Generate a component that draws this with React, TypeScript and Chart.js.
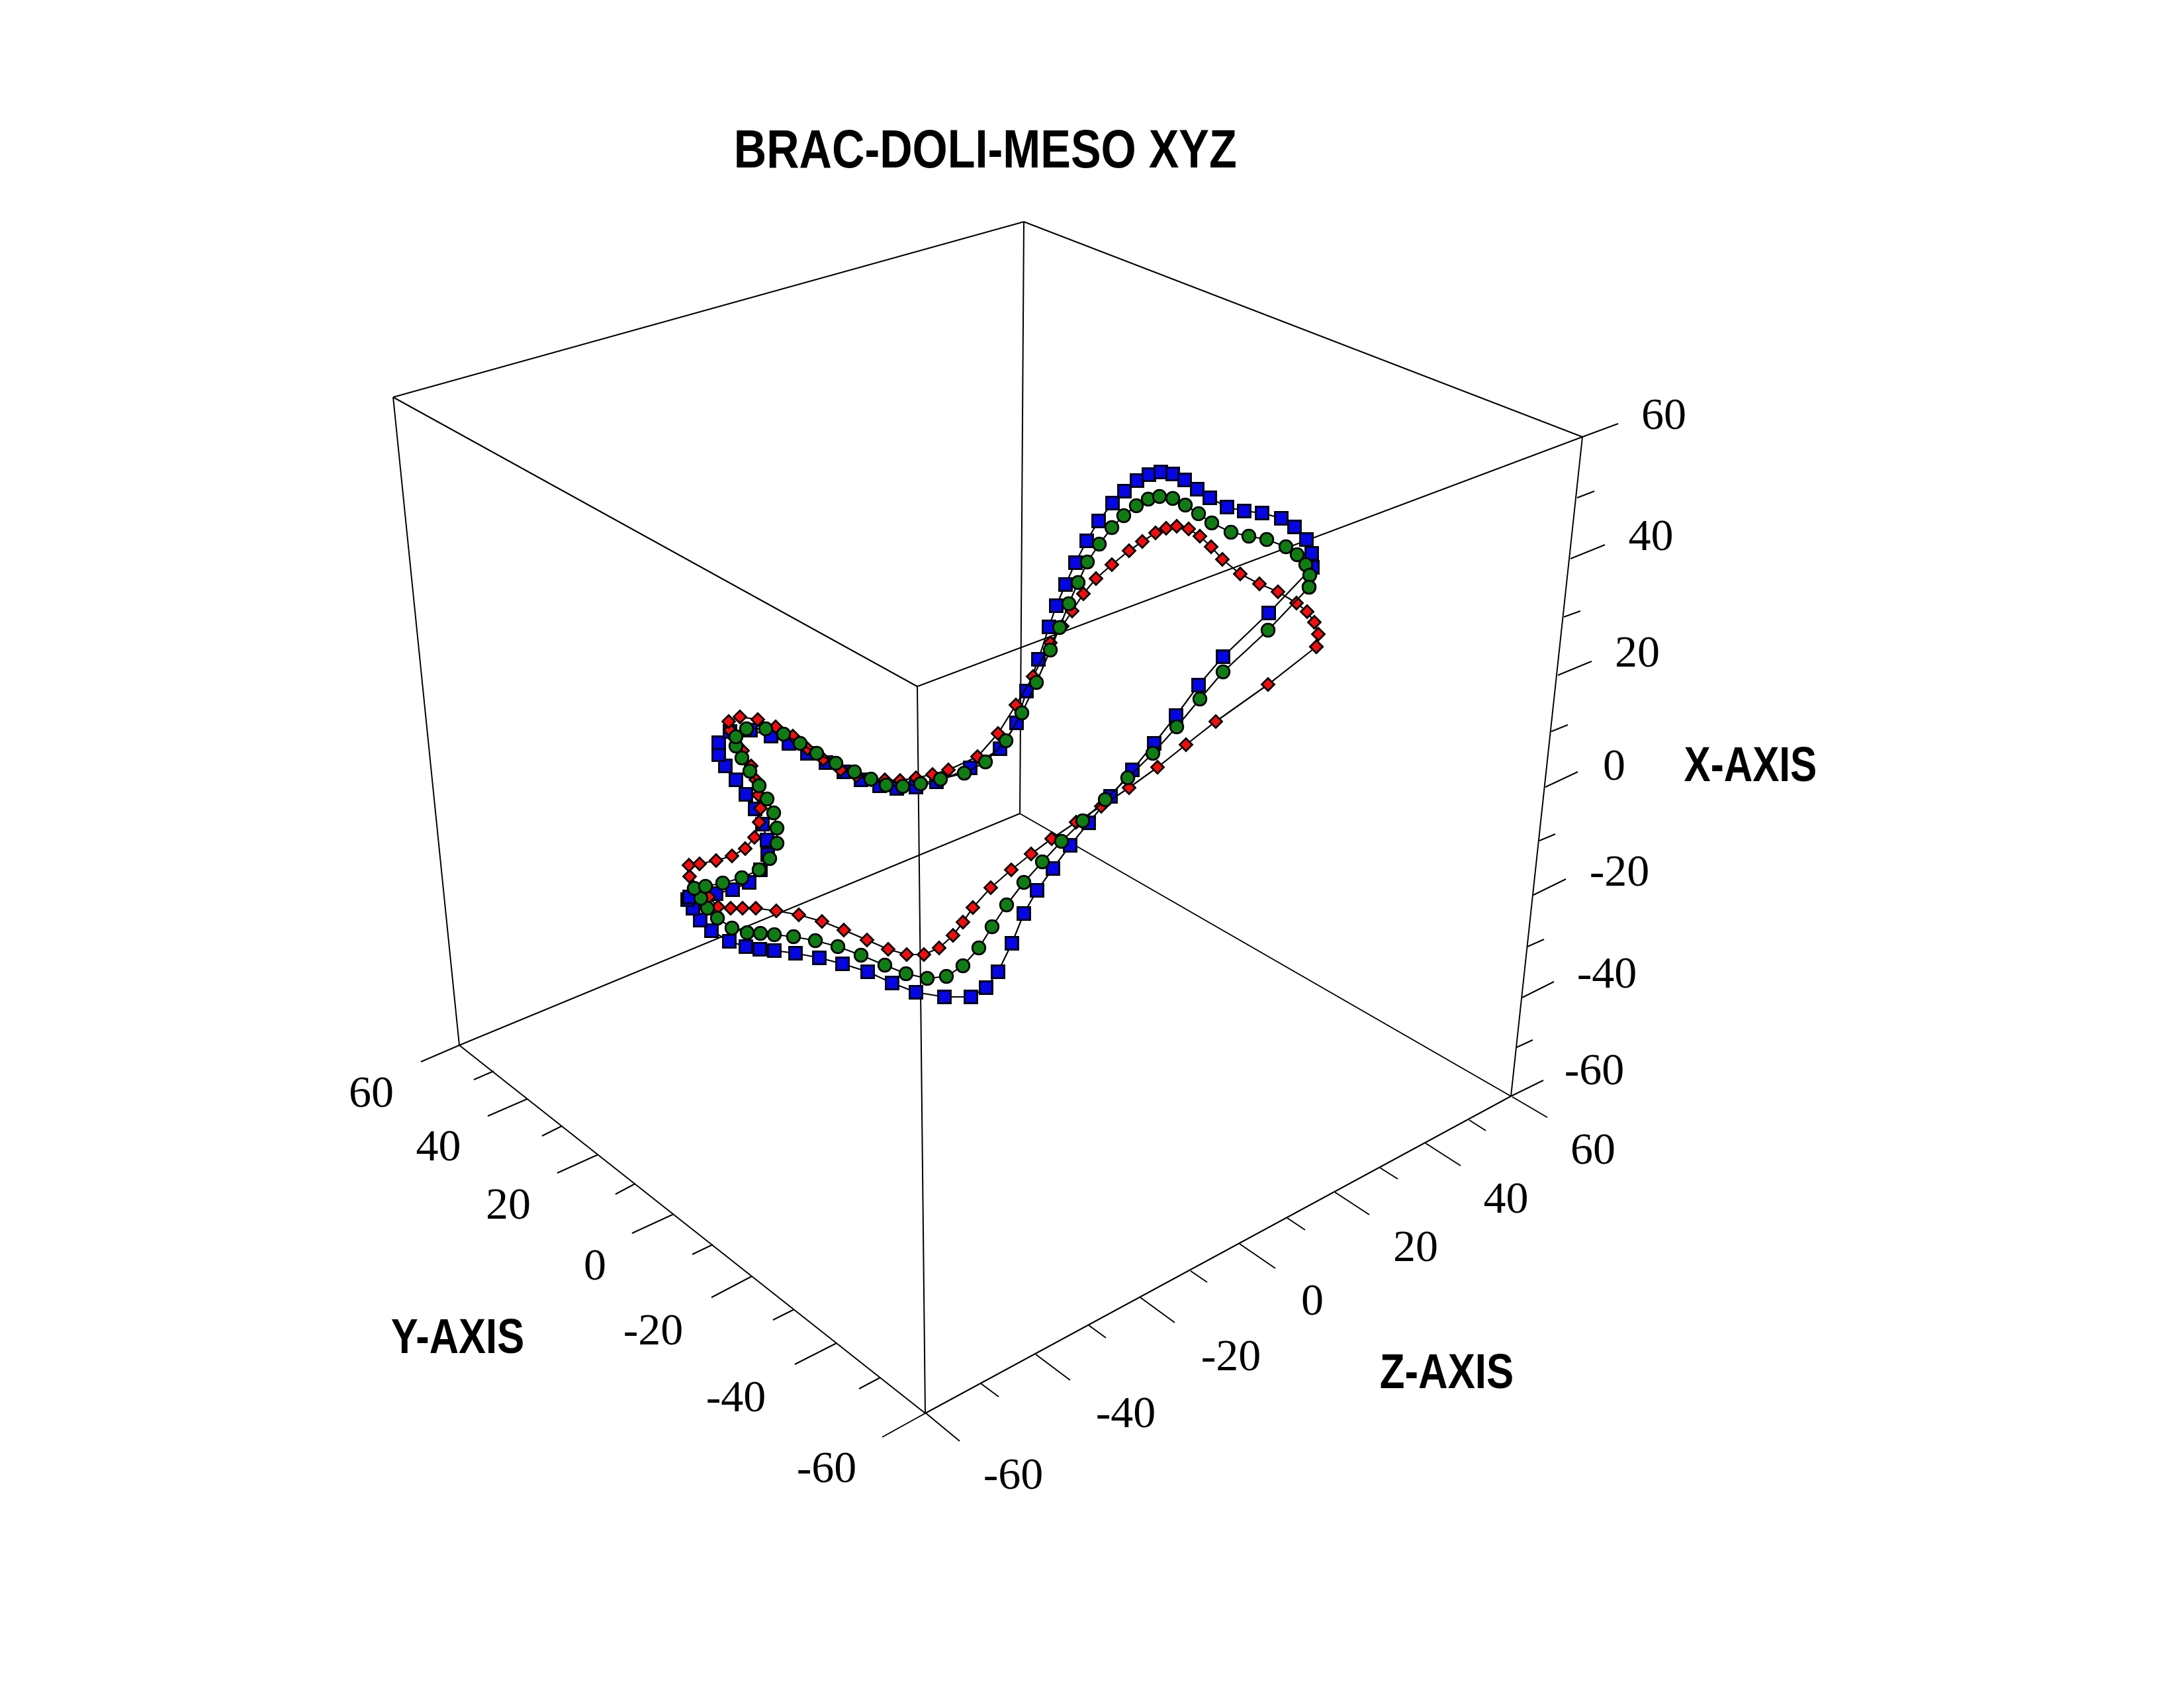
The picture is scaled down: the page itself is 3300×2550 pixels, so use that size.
import React, { useEffect, useRef } from "react";
import { Chart, registerables } from "chart.js";

Chart.register(...registerables);

// The source is a 3D plot with no recoverable depth, so every series is stored
// as the projected coordinates (units of the 2D plane).
const blueX = [1917, 1848, 1811, 1777, 1744, 1711, 1678, 1645, 1617, 1591, 1567, 1547, 1529, 1508, 1490, 1467, 1427, 1384, 1348, 1311, 1273, 1238, 1202, 1170, 1148, 1127, 1102, 1075, 1058, 1047, 1039, 1042, 1082, 1107, 1132, 1149, 1160, 1159, 1152, 1141, 1127, 1112, 1096, 1086, 1086, 1103, 1134, 1165, 1192, 1220, 1248, 1275, 1301, 1329, 1355, 1384, 1415, 1466, 1511, 1536, 1551, 1569, 1585, 1596, 1610, 1625, 1642, 1660, 1681, 1699, 1718, 1736, 1754, 1772, 1790, 1809, 1828, 1854, 1880, 1907, 1936, 1956, 1974, 1982, 1983, 1917];
const blueY = [926, 992, 1035, 1081, 1123, 1163, 1203, 1243, 1277, 1312, 1345, 1380, 1425, 1468, 1492, 1506, 1506, 1499, 1485, 1468, 1456, 1447, 1440, 1436, 1434, 1430, 1422, 1406, 1390, 1372, 1359, 1355, 1350, 1344, 1333, 1314, 1291, 1269, 1245, 1222, 1200, 1178, 1157, 1140, 1122, 1105, 1103, 1112, 1123, 1138, 1152, 1166, 1178, 1187, 1191, 1189, 1181, 1160, 1131, 1092, 1044, 996, 947, 915, 883, 850, 817, 787, 760, 742, 726, 717, 713, 716, 725, 739, 752, 766, 772, 775, 783, 796, 815, 836, 857, 926];

const greenX = [1978, 1916, 1848, 1813, 1778, 1742, 1704, 1670, 1636, 1604, 1575, 1547, 1521, 1499, 1479, 1455, 1430, 1401, 1369, 1337, 1301, 1266, 1232, 1199, 1170, 1149, 1129, 1106, 1084, 1069, 1059, 1049, 1066, 1092, 1121, 1147, 1163, 1174, 1174, 1169, 1159, 1147, 1133, 1121, 1112, 1112, 1128, 1157, 1184, 1209, 1234, 1263, 1291, 1316, 1339, 1364, 1391, 1421, 1457, 1489, 1520, 1544, 1566, 1587, 1601, 1615, 1629, 1643, 1661, 1680, 1698, 1717, 1735, 1752, 1772, 1791, 1811, 1831, 1860, 1887, 1914, 1943, 1960, 1973, 1979, 1978];
const greenY = [887, 952, 1015, 1056, 1098, 1138, 1175, 1208, 1240, 1271, 1302, 1333, 1367, 1400, 1432, 1459, 1475, 1478, 1471, 1458, 1443, 1430, 1421, 1415, 1412, 1410, 1409, 1402, 1387, 1372, 1357, 1342, 1339, 1334, 1326, 1314, 1297, 1274, 1251, 1228, 1207, 1187, 1165, 1145, 1127, 1113, 1101, 1101, 1109, 1123, 1138, 1153, 1166, 1177, 1186, 1188, 1184, 1177, 1168, 1151, 1119, 1077, 1031, 982, 948, 912, 880, 849, 822, 797, 779, 764, 754, 750, 753, 763, 776, 790, 804, 810, 815, 826, 838, 853, 869, 887];

const redX = [1989, 1916, 1837, 1792, 1749, 1706, 1664, 1626, 1589, 1558, 1528, 1497, 1470, 1455, 1440, 1419, 1396, 1370, 1342, 1310, 1275, 1242, 1207, 1173, 1142, 1122, 1104, 1085, 1071, 1042, 1041, 1057, 1082, 1106, 1126, 1140, 1147, 1149, 1146, 1142, 1135, 1122, 1110, 1103, 1101, 1118, 1145, 1172, 1198, 1220, 1244, 1270, 1294, 1316, 1337, 1360, 1384, 1409, 1433, 1477, 1508, 1535, 1561, 1587, 1605, 1620, 1637, 1656, 1680, 1706, 1726, 1746, 1762, 1778, 1796, 1813, 1830, 1847, 1874, 1903, 1931, 1959, 1975, 1986, 1992, 1989];
const redY = [977, 1034, 1090, 1125, 1159, 1190, 1218, 1242, 1267, 1290, 1314, 1341, 1371, 1393, 1413, 1432, 1442, 1442, 1434, 1420, 1405, 1392, 1382, 1376, 1372, 1372, 1372, 1370, 1355, 1324, 1307, 1305, 1300, 1293, 1282, 1265, 1242, 1221, 1201, 1178, 1157, 1134, 1115, 1103, 1090, 1083, 1087, 1098, 1112, 1131, 1147, 1163, 1172, 1178, 1178, 1179, 1175, 1170, 1163, 1143, 1108, 1065, 1022, 971, 946, 923, 897, 874, 853, 832, 818, 805, 798, 795, 799, 810, 826, 845, 867, 882, 894, 911, 924, 940, 958, 977];

// Box corners in the projected plane
const cornerNames = ["topBack", "topLeft", "topRight", "topFront", "botBack", "botLeft", "botRight", "botFront"];
const cornerX = [1547, 594, 2391, 1386, 1541, 694, 2283, 1398];
const cornerY = [335, 600, 660, 1037, 1229, 1579, 1656, 2135];
const boxEdges = [
  ["topBack", "topLeft"], ["topBack", "topRight"], ["topLeft", "topFront"], ["topFront", "topRight"],
  ["botBack", "botLeft"], ["botBack", "botRight"], ["botLeft", "botFront"], ["botFront", "botRight"],
  ["topBack", "botBack"], ["topLeft", "botLeft"], ["topRight", "botRight"], ["topFront", "botFront"],
];

// Tick marks, ordered 60, 50, ... -60
const xTickX0 = [2391, 2383, 2373, 2363, 2354, 2344, 2335, 2326, 2317, 2308, 2300, 2292, 2283];
const xTickY0 = [660, 752, 844, 932, 1020, 1105, 1189, 1270, 1352, 1430, 1507, 1582, 1656];
const xTickX1 = [2445, 2409, 2425, 2388, 2405, 2369, 2384, 2350, 2366, 2333, 2348, 2316, 2332];
const xTickY1 = [640, 742, 823, 923, 999, 1095, 1166, 1260, 1328, 1419, 1483, 1571, 1632];

const yTickX0 = [694, 746, 797, 849, 904, 960, 1018, 1077, 1136, 1200, 1264, 1330, 1398];
const yTickY0 = [1579, 1618, 1660, 1701, 1744, 1788, 1834, 1880, 1928, 1978, 2029, 2081, 2135];
const yTickX1 = [636, 716, 737, 819, 842, 930, 955, 1046, 1075, 1168, 1201, 1298, 1333];
const yTickY1 = [1604, 1631, 1686, 1716, 1772, 1804, 1863, 1895, 1960, 1994, 2061, 2098, 2171];

const zTickX0 = [2285, 2220, 2154, 2085, 2017, 1945, 1873, 1799, 1723, 1645, 1565, 1482, 1398];
const zTickY0 = [1657, 1692, 1727, 1764, 1801, 1840, 1879, 1920, 1960, 2002, 2046, 2090, 2134];
const zTickX1 = [2338, 2245, 2207, 2112, 2069, 1972, 1927, 1824, 1775, 1671, 1617, 1509, 1450];
const zTickY1 = [1688, 1708, 1761, 1781, 1835, 1858, 1916, 1937, 1998, 2021, 2085, 2110, 2177];

const tickLabels = ["60", "40", "20", "0", "-20", "-40", "-60"];
const xLabelX = [2514, 2494, 2474, 2439, 2447, 2428, 2409];
const xLabelY = [626, 809, 985, 1156, 1316, 1470, 1616];
const yLabelX = [561, 662, 768, 899, 987, 1112, 1249];
const yLabelY = [1650, 1731, 1819, 1911, 2009, 2110, 2217];
const zLabelX = [2407, 2275, 2139, 1983, 1860, 1701, 1531];
const zLabelY = [1736, 1810, 1883, 1964, 2048, 2134, 2227];

const titleText = "BRAC-DOLI-MESO XYZ";
const axisNames = ["X-AXIS", "Y-AXIS", "Z-AXIS"];
const axisNameX = [2644, 691, 2186];
const axisNameY = [1154, 2018, 2071];

const zip = (xs: number[], ys: number[]) => xs.map((x, i) => ({ x, y: ys[i] }));

const segments = (x0: number[], y0: number[], x1: number[], y1: number[]) =>
  x0.flatMap((x, i) => [{ x, y: y0[i] }, { x: x1[i], y: y1[i] }, { x: NaN, y: NaN }]);

const cornerAt = (name: string) => {
  const i = cornerNames.indexOf(name);
  return { x: cornerX[i], y: cornerY[i] };
};

const boxData = boxEdges.flatMap(([a, b]) => [cornerAt(a), cornerAt(b), { x: NaN, y: NaN }]);

const frame = (label: string, data: { x: number; y: number }[], width: number) => ({
  label,
  data,
  showLine: true,
  spanGaps: false,
  borderColor: "#000000",
  borderWidth: width,
  pointRadius: 0,
  order: 10,
});

const series = (label: string, data: { x: number; y: number }[], color: string, style: string, radius: number, order: number) => ({
  label,
  data,
  showLine: true,
  tension: 0,
  borderColor: "#000000",
  borderWidth: 2.2,
  pointStyle: style,
  pointRadius: radius,
  pointBackgroundColor: color,
  pointBorderColor: "#000000",
  pointBorderWidth: 2.8,
  order,
});

const putText = (
  ctx: CanvasRenderingContext2D,
  text: string,
  cx: number,
  cy: number,
  font: string,
  targetWidth?: number,
) => {
  ctx.save();
  ctx.font = font;
  ctx.fillStyle = "#000000";
  ctx.textAlign = "left";
  ctx.textBaseline = "alphabetic";
  const m = ctx.measureText(text);
  const inkW = m.actualBoundingBoxLeft + m.actualBoundingBoxRight;
  const sx = targetWidth ? targetWidth / inkW : 1;
  ctx.translate(cx, cy + (m.actualBoundingBoxAscent - m.actualBoundingBoxDescent) / 2);
  ctx.scale(sx, 1);
  ctx.fillText(text, -inkW / 2 + m.actualBoundingBoxLeft, 0);
  ctx.restore();
};

const textPlugin = {
  id: "plotText",
  afterDatasetsDraw(chart: any) {
    const { ctx, scales } = chart;
    const px = (v: number) => scales.x.getPixelForValue(v);
    const py = (v: number) => scales.y.getPixelForValue(v);
    const numFont = '68px "Liberation Serif", serif';
    const boldFont = 'bold 75px "Liberation Sans", sans-serif';
    tickLabels.forEach((t, i) => {
      putText(ctx, t, px(xLabelX[i]), py(xLabelY[i]), numFont);
      putText(ctx, t, px(yLabelX[i]), py(yLabelY[i]), numFont);
      putText(ctx, t, px(zLabelX[i]), py(zLabelY[i]), numFont);
    });
    axisNames.forEach((t, i) => putText(ctx, t, px(axisNameX[i]), py(axisNameY[i]), boldFont, 199));
    putText(ctx, titleText, px(1490), py(225), 'bold 82px "Liberation Sans", sans-serif', 754);
  },
};

export default function App() {
  const ref = useRef<HTMLCanvasElement | null>(null);
  useEffect(() => {
    if (!ref.current) return;
    const chart = new Chart(ref.current, {
      type: "scatter",
      data: {
        datasets: [
          frame("box", boxData, 2),
          frame("x ticks", segments(xTickX0, xTickY0, xTickX1, xTickY1), 2),
          frame("y ticks", segments(yTickX0, yTickY0, yTickX1, yTickY1), 2),
          frame("z ticks", segments(zTickX0, zTickY0, zTickX1, zTickY1), 2),
          series("BRAC", zip(blueX, blueY), "#0505e6", "rect", 13.5, 3),
          series("MESO", zip(redX, redY), "#f50d0d", "rectRot", 9.5, 2),
          series("DOLI", zip(greenX, greenY), "#0f7d14", "circle", 9.8, 1),
        ] as any,
      },
      options: {
        animation: false,
        responsive: false,
        devicePixelRatio: 1,
        layout: { padding: 0, autoPadding: false },
        plugins: { legend: { display: false }, title: { display: false }, tooltip: { enabled: false } },
        scales: {
          x: { type: "linear", min: 0, max: 3300, display: false },
          y: { type: "linear", min: 0, max: 2550, reverse: true, display: false },
        },
      },
      plugins: [textPlugin],
    });
    return () => chart.destroy();
  }, []);
  return (
    <div style={{ position: "fixed", left: 0, top: 0, width: 3300, height: 2550, background: "#ffffff" }}>
      <canvas ref={ref} width={3300} height={2550} style={{ display: "block" }} />
    </div>
  );
}
